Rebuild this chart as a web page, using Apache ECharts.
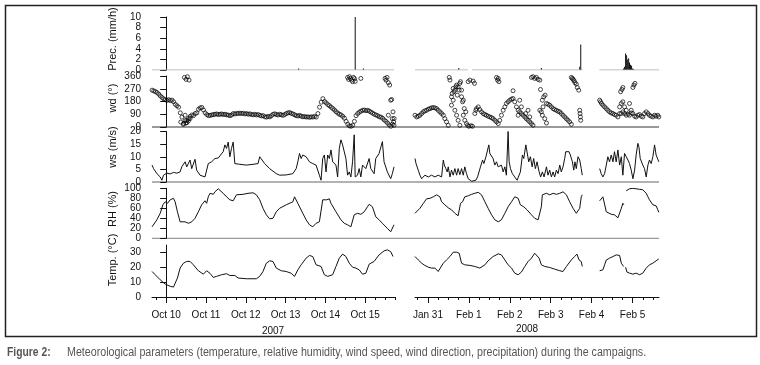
<!DOCTYPE html>
<html>
<head>
<meta charset="utf-8">
<script src="https://cdn.jsdelivr.net/npm/echarts@6/dist/echarts.min.js"></script>
<style>
  html, body { margin: 0; padding: 0; background: #fff; }
  #chart { width: 760px; height: 365px; }
</style>
</head>
<body>
<div id="chart"></div>
<script>
// time is in hours after 00:00 of the first labelled day (Oct 10 2007 / Jan 31 2008)
const dayLabels2007 = ['Oct 10', 'Oct 11', 'Oct 12', 'Oct 13', 'Oct 14', 'Oct 15'];
const dayLabels2008 = ['Jan 31', 'Feb 1', 'Feb 2', 'Feb 3', 'Feb 4', 'Feb 5'];
const yearLabels = ['2007', '2008'];

// precipitation (mm/h): measured spans (value 0) and non-zero readings
const precSpans2007 = [[-8.5, 137.5]];
const prec2007 = [[79.9, 0.3], [114, 10], [119, 0.3]];
const precSpans2008 = [[-7.6, 23.4], [25.8, 90.6], [100.6, 135.6]];
const prec2008 = [[18.1, 0.4], [66.5, 0.4], [89.0, 0.6], [89.6, 4.8],
  [114.7, 0.3], [115.3, 0.6], [115.9, 3.1], [116.5, 2.8], [117.1, 2.0], [117.7, 2.2],
  [118.2, 1.4], [118.8, 1.0], [119.4, 0.8], [120.0, 0.3], [120.6, 0.2]];

// wind direction (deg), 2007 hourly from -8.5 h
const wd2007Start = -8.5;
const wd2007 = [260,255,250,243,232,220,208,198,192,188,
  193,186,190,178,160,150,140,100,70,25,
  45,30,60,75,85,80,95,100,125,135,
  138,120,100,88,80,82,85,88,90,92,
  88,90,92,88,90,86,84,80,85,95,
  92,96,95,98,95,97,92,95,90,93,
  88,86,90,85,88,82,78,80,72,70,
  75,72,80,90,93,88,85,90,86,82,
  88,95,100,102,96,92,86,80,78,82,
  76,72,74,70,72,68,72,70,75,70,
  95,140,175,200,180,170,158,150,140,130,
  120,108,98,90,85,75,62,40,20,8,
  5,12,40,80,95,105,112,118,120,115,
  118,112,105,98,90,85,80,72,70,62,
  50,40,28,15,5,20,60];
const wd2007Extra = [[11.0,350],[12.0,336],[12.8,355],[13.8,331],[8.8,35],[10.4,19],[11.8,28],
  [12.4,47],[13.4,43],[14.4,59],[11.4,83],
  [109.4,350],[110.0,336],[110.6,355],[111.2,343],[111.8,331],[112.4,320],[113.0,350],[113.6,341],[114.0,322],
  [117.4,343],[132.0,343],[132.6,331],[133.2,350],[134.0,313],[134.8,296],[135.4,189],[136.0,194],
  [136.8,107],[134.0,83],[136.4,59],[137.2,36],[137.4,12]];
const wd2008 = [
  [-7.6,83],[-6.6,71],[-5.7,76],[-4.7,83],[-3.7,95],[-2.7,107],[-1.8,114],[-0.8,118],[0.2,126],[1.2,130],
  [2.1,135],[3.1,137],[4.1,135],[5.1,130],[6.0,118],[7.0,107],[8.0,95],[9.0,83],[9.9,59],[10.9,36],[11.9,12],
  [12.5,350],[12.9,331],[13.8,213],[13.8,154],[14.2,237],[14.8,272],[14.8,189],[15.2,249],[15.8,260],[15.8,118],
  [16.4,284],[16.8,296],[16.8,83],[17.2,225],[17.7,284],[17.7,47],[18.3,260],[18.7,308],[18.7,12],[19.1,320],
  [19.7,260],[19.7,213],[20.3,178],[20.7,189],[20.7,83],[21.3,130],[21.6,47],[22.2,107],[22.6,24],[23.2,12],
  [23.6,320],[24.0,5],[24.6,331],[25.2,9],[26.1,5],[26.5,324],[27.3,308],
  [27.5,95],[28.1,118],[28.5,130],[29.5,142],[30.4,123],[31.4,107],[32.4,95],[33.4,88],[34.3,83],[35.3,76],
  [36.3,71],[37.3,66],[38.2,59],[39.2,47],[40.2,36],[41.2,24],[42.1,47],[43.1,83],[44.1,118],[45.1,142],
  [46.0,166],[47.0,178],[48.0,189],[49.0,197],[49.9,201],[50.9,178],[51.9,142],[52.9,118],[53.8,107],[54.8,95],
  [55.8,83],[56.8,71],[57.7,59],[58.7,47],[59.7,36],[60.7,24],[61.6,12],
  [40.2,350],[40.8,331],[41.6,320],[41.2,343],[49.9,256],[52.9,83],[53.8,189],[54.8,142],[57.3,95],[58.7,118],[59.7,71],
  [60.7,350],[61.6,355],[62.6,343],[63.6,350],[64.6,336],[65.6,331],[66.0,265],[67.1,189],[67.9,213],[68.7,225],
  [65.6,118],[66.5,107],[67.5,142],[67.1,83],[68.5,59],[69.5,28],
  [69.5,166],[70.4,161],[71.4,154],[72.4,142],[73.4,130],[74.3,123],[75.3,118],[76.3,111],[77.3,107],[78.2,95],
  [79.2,83],[80.2,71],[81.2,59],[82.1,47],[83.1,36],[84.1,19],
  [84.1,350],[84.7,343],[85.1,336],[85.7,327],[86.2,313],[87.0,303],[87.6,279],[88.4,260],
  [89.0,118],[89.2,95],[89.4,71],[89.6,47],
  [100.7,189],[101.2,178],[101.8,166],[102.6,154],[103.6,142],[104.6,130],[105.5,118],[106.5,107],[107.5,99],
  [108.5,95],[109.4,88],[110.4,83],[111.4,71],[112.4,95],
  [113.0,249],[113.8,265],[114.3,279],[112.4,142],[113.4,166],[114.3,178],[115.3,142],[116.3,118],[118.2,166],
  [119.2,118],[120.2,279],[120.8,296],[121.4,308],
  [113.4,95],[114.3,107],[115.3,95],[116.3,83],[117.3,90],[118.2,83],[119.2,99],[120.2,95],[121.2,76],[122.1,71],
  [123.1,83],[124.1,88],[125.1,76],[126.0,71],[127.0,95],[128.0,107],[129.0,95],[129.9,83],[130.9,76],[131.9,71],
  [132.9,83],[133.8,76],[134.8,83],[135.4,71]];

// wind speed (m/s)
const ws2007 = [[-8.5,6.7],[-7.6,5.3],[-5.6,3.3],[-3.6,2],[-2.6,0.7],[-1.6,2.7],[0.4,3.5],[2.4,3.2],[4.4,3.8],
  [6.4,3.5],[8.4,4],[9.4,6],[11.4,8],[12.4,6],[14.4,8.7],[15.4,5.3],[17.4,9],[18.4,4.7],[20.4,2.7],[23.4,2],
  [24.4,1.3],[25.4,7.3],[27.4,8],[29.4,9.3],[31.4,9.5],[34.4,12],[35.4,14.7],[36.4,13.3],[37.4,15.8],[38.4,10],
  [39.4,13.3],[40.4,15.8],[41.4,7.3],[44.4,7],[48.4,6.7],[52.4,7],[55.4,7.3],[56.4,10],[57.4,9.3],[59.4,7.3],
  [62.4,5.3],[66.4,3.3],[68.4,2.7],[72.4,2.8],[76.4,3.3],[78.4,5.3],[79.4,8],[80.4,11.3],[81.4,9.3],[82.4,10.7],
  [84.4,10],[86.4,8],[88.4,7.3],[90.4,6.7],[92.4,2.7],[93.4,0.7],[94.4,9.3],[95.4,10.7],[96.4,4],[97.4,10.7],
  [98.4,9.3],[99.4,12.7],[100.4,8],[102.4,6.7],[103.4,2],[104.4,13.3],[105.4,16.7],[106.4,14.7],[107.4,14.7],
  [108.4,9.3],[109.4,2.7],[110.4,4],[111.4,2],[112.4,8],[113.4,18.7],[114,2],[115.4,2.7],[116.4,5.3],[117.4,2],
  [118.4,6.7],[120.4,5.3],[122.4,9.3],[123.4,5.3],[125.4,3.3],[126.4,9.3],[128.4,11.3],[130.4,16],[131.4,8],
  [132.4,8],[133.4,4],[135.4,1.3],[136.4,3.3],[137.4,6]];
const ws2008 = [[-7.6,9.3],[-7.0,7.3],[-6.2,6.7],[-5.7,4.7],[-4.7,2.7],[-3.7,1.3],[-2.7,2],[-1.8,2.7],[-0.8,2.2],
  [0.2,2],[1.2,2.6],[2.1,2.7],[3.1,2.2],[4.1,2],[5.1,2.5],[6.0,2.7],[7.0,3.3],[8.0,2],[9.0,8.7],[9.6,6.7],
  [10.5,5.3],[11.3,4],[11.9,6],[12.9,2],[13.8,4.7],[14.8,2.7],[15.8,5.3],[16.8,2.7],[17.7,5.3],[18.7,2.9],
  [19.7,5.3],[20.7,2.7],[21.6,6],[22.6,3.3],[23.6,1.3],[24.6,0.7],[25.6,0.3],[26.5,0],[28.1,0.7],[29.1,2],
  [30.0,1.3],[30.8,6],[32.0,8.7],[32.8,7.3],[34.0,10],[34.7,9.3],[35.7,14.7],[36.3,11.3],[37.3,12],[38.2,9.3],
  [39.2,6.7],[40.2,8],[41.2,6],[42.1,5.3],[43.1,6.7],[44.1,4],[45.1,6],[46.0,2.7],[47.0,20],[47.6,8],
  [48.4,5.3],[49.5,3.3],[50.9,2],[52.3,0.7],[53.3,1.3],[54.2,4],[55.4,10.7],[56.2,9.3],[57.4,14.7],[58.3,14],
  [59.1,8],[60.1,10],[61.1,6],[62.0,9.3],[63.0,5.3],[64.0,8],[65.2,4],[66.1,2],[67.1,4],[68.1,2],
  [69.5,6],[70.4,2.7],[71.4,4.7],[72.4,2],[73.4,4],[74.3,2],[75.3,4.7],[76.3,3.3],[77.3,6.7],[78.2,4],
  [79.2,6],[80.2,9.3],[80.8,12],[81.8,12.7],[82.7,12],[83.5,10.7],[84.7,8],[85.5,4.7],[86.2,8],[87.0,5.3],
  [88.0,10],[89.0,8.7],[89.9,5.3],[90.5,2.7],[95,null],
  [100.7,5.3],[101.6,3.3],[102.6,2],[103.6,3.3],[104.6,6.7],[105.5,10],[106.5,8],[107.5,10.7],[108.5,8],
  [109.4,12],[110.4,8],[111.4,12.7],[112.4,6.7],[113.4,10],[114.3,2.7],[115.3,11.3],[116.3,10],[117.3,8.7],
  [118.2,7.3],[119.2,4.7],[120.2,1.3],[121.2,4.7],[122.1,10.7],[123.1,15.3],[123.7,14],[124.5,9.3],[125.3,10],
  [126.0,6.7],[127.0,5.3],[128.0,2],[129.0,6.7],[129.9,8.7],[130.9,7.3],[131.9,10],[132.9,14.7],[133.8,10.7],
  [134.8,10],[135.4,8]];

// relative humidity (%)
const rh2007 = [[-8.5,23],[-7.6,27],[-5.6,37],[-3.6,50],[-2.0,67],[-0.6,73],[0.8,70],[2.4,77],[4.4,80],[5.4,73],
  [6.8,53],[8.4,33],[9.4,30],[11.4,33],[13.4,30],[15.4,33],[17.4,40],[19.4,53],[21.4,67],[23.4,75],[24.4,70],
  [25.4,83],[26.4,90],[28.4,88],[29.4,93],[31.4,99],[32.4,95],[34.4,90],[36.4,83],[38.4,77],[40.4,75],[42.4,87],
  [46.4,88],[49.4,90],[52.4,91],[54.4,87],[56.4,77],[58.4,60],[60.4,47],[62.4,39],[64.4,40],[66.4,53],[68.4,60],
  [72.4,67],[76.4,73],[77.4,83],[79.4,70],[82.4,50],[84.4,37],[86.4,27],[88.4,23],[90.4,30],[92.4,33],[94.4,77],
  [95.4,80],[96.8,77],[98.4,79],[99.4,70],[102.4,53],[105.4,37],[107.4,30],[109.4,27],[111.4,23],[113.4,47],
  [115.4,50],[117.4,48],[119.4,53],[121.4,63],[122.4,68],[124.4,63],[126.4,43],[128.4,37],[130.4,30],[133.4,20],
  [135.4,13],[137.4,27]];
const rh2008 = [[-7.6,50],[-6.6,52],[-4.7,60],[-2.7,70],[-0.8,79],[1.2,80],[3.1,83],[5.1,87],[6.0,88],[7.0,83],
  [8.0,73],[9.9,67],[11.9,61],[13.8,57],[15.8,50],[17.7,45],[18.7,47],[19.1,70],[20.3,73],[21.6,83],[23.6,85],
  [25.6,88],[27.5,90],[29.5,92],[30.4,95],[31.4,87],[33.4,73],[35.3,60],[37.3,47],[39.2,37],[41.2,33],[43.1,37],
  [45.1,50],[47.0,63],[49.0,73],[50.9,83],[51.9,87],[52.9,80],[54.2,67],[56.2,63],[58.1,57],[60.7,47],[62.6,40],
  [64.6,37],[65.6,40],[66.5,63],[67.1,87],[67.9,83],[69.5,90],[71.4,87],[73.4,90],[75.3,88],[77.3,90],[79.2,93],
  [81.2,87],[83.1,73],[85.1,60],[87.0,50],[88.0,47],[89.0,60],[89.9,83],[90.5,87],[95,null],
  [100.7,75],[101.6,79],[102.6,83],[103.6,80],[104.6,53],[105.5,50],[107.5,48],[109.4,47],[111.4,41],[112.4,40],
  [113.4,60],[114.3,70],[114.9,67],[115.5,null],
  [116.3,95],[118.2,99],[120.2,100],[122.1,99],[124.1,98],[126.0,97],[128.0,90],[129.0,83],[129.9,77],[131.9,67],
  [133.8,65],[134.8,57],[135.4,52]];

// temperature (deg C)
const temp2007 = [[-8.5,17.2],[-6.6,15],[-3.6,11.6],[-0.6,8.7],[2.4,7.2],[4.4,6.7],[5.4,7.2],[6.8,12.8],[8.4,19.5],
  [10.4,22.8],[12.4,24],[14.4,24],[16.4,21.7],[19.4,17.7],[22.4,15.4],[24.4,17.7],[26.4,16],[28.4,13.2],[30.4,13.9],
  [33.4,15],[36.4,15.7],[38.4,14.5],[41.4,14.5],[43.4,12.8],[48.4,12.3],[54.4,12.3],[56.4,13.9],[58.4,17.2],
  [60.4,22.8],[62.4,24.4],[64.4,24],[66.4,19.5],[69.4,17.7],[72.4,17.2],[75.4,16],[77.4,13.9],[79.4,18.3],
  [81.4,21.7],[84.4,26.2],[86.4,28],[88.4,27.3],[90.4,21.7],[93.4,20.6],[95.4,15],[97.4,13.9],[100.4,15],
  [102.4,20.6],[104.4,26.2],[106.4,28.9],[108.4,27.3],[110.4,22.8],[112.4,20.1],[114.4,19.5],[116.4,18.3],
  [118.4,15.4],[120.4,16],[122.4,22.1],[125.4,24],[128.4,28.4],[131.4,31.1],[133.4,31.8],[135.4,30.6],[136.8,27.3]];
const temp2008 = [[-7.6,27.3],[-5.7,25],[-3.7,22.8],[-1.8,21.3],[0.2,20.1],[2.1,19.5],[4.1,19.5],[6.0,17.2],[7.0,18.3],
  [9.0,22.8],[10.9,25],[12.9,27.3],[14.8,30.2],[16.8,30.2],[18.3,29.5],[19.7,22.8],[21.6,21.7],[24.6,21.3],[27.5,20.6],
  [30.4,19.5],[31.4,18.3],[33.4,21.7],[35.3,24.4],[38.2,27.3],[41.2,29.1],[43.1,28.4],[45.1,25],[47.0,21.7],
  [49.0,19.5],[50.9,16.1],[52.9,15],[54.8,16.8],[56.8,20.6],[58.7,23.9],[60.7,26.2],[62.6,29.5],[63.6,30],
  [65.2,26.2],[66.5,21.7],[68.5,20.6],[71.4,19.9],[74.3,18.8],[77.3,17.7],[79.2,17.2],[81.2,20.6],[84.1,25],
  [86.0,27.3],[87.4,28.9],[88.6,25],[89.9,23.9],[90.5,20.6],[95,null],
  [100.7,17.7],[102.6,18.3],[103.6,21.7],[104.6,25],[106.5,26.2],[108.5,27.3],[110.4,28.4],[111.4,29.5],
  [112.4,28],[113.4,22.8],[114.7,20.6],[115.3,null],
  [115.9,20.1],[116.7,16.8],[118.2,16.1],[120.2,15.4],[122.1,16.1],[124.1,15],[126.0,16.1],[128.0,19.5],
  [129.9,21.7],[131.9,22.8],[133.8,24.4],[135.4,25.7]];

const FONT = 'Liberation Sans, Arial, sans-serif';
const INK = '#111';

// layout: two columns (2007, 2008) x five stacked panels
const cols = [
  { left: 152, width: 243, min: -8.55, max: 138, days: dayLabels2007 },
  { left: 415, width: 244, min: -7.6, max: 135.5, days: dayLabels2008 }
];
const rows = [
  { top: 17, height: 53, min: 0, max: 10, interval: 2, name: 'Prec. (mm/h)', nameY: 39 },
  { top: 76, height: 51, min: 0, max: 360, interval: 90, name: 'wd (°)', nameY: 98 },
  { top: 131.5, height: 50.5, min: 0, max: 20, interval: 5, name: 'ws (m/s)', nameY: 147 },
  { top: 188.3, height: 50, min: 0, max: 100, interval: 20, name: 'RH (%)', nameY: 209 },
  { top: 245.1, height: 51.9, min: 0, max: 35, interval: 10, name: 'Temp. (°C)', nameY: 260 }
];

const grids = [], xAxes = [], yAxes = [];
rows.forEach((r, ri) => {
  cols.forEach((c, ci) => {
    const idx = ri * 2 + ci;
    grids.push({ left: c.left, width: c.width, top: r.top, height: r.height, outerBoundsMode: 'none' });
    const minorTicks = [];
    for (let t = -6; t <= c.max; t += 6) minorTicks.push(t);
    const isBottom = ri === 4;
    xAxes.push({
      type: 'value', gridIndex: idx, min: c.min, max: c.max,
      axisLine: { show: isBottom, lineStyle: { color: INK, width: 1 } },
      axisTick: { show: isBottom, customValues: minorTicks, length: 3, lineStyle: { color: INK } },
      axisLabel: { show: false },
      splitLine: { show: false }
    });
    const labelVals = [];
    for (let v = r.min; v <= r.max; v += r.interval) labelVals.push(v);
    yAxes.push({
      type: 'value', gridIndex: idx, min: r.min, max: r.max, interval: r.interval,
      show: ci === 0,
      axisLine: { show: true, lineStyle: { color: INK, width: 1 } },
      axisTick: { show: true, length: 6, customValues: labelVals, lineStyle: { color: INK } },
      axisLabel: { show: true, customValues: labelVals, fontSize: 10, color: INK, margin: 11, fontFamily: FONT },
      splitLine: { show: false }
    });
  });
});
// major day ticks + labels on the bottom panels
cols.forEach((c, ci) => {
  const majors = c.days.map((d, i) => i * 24);
  xAxes.push({
    type: 'value', gridIndex: 8 + ci, min: c.min, max: c.max, position: 'bottom',
    axisLine: { show: false },
    axisTick: { show: true, customValues: majors, length: 6, lineStyle: { color: INK } },
    axisLabel: { show: true, customValues: majors, margin: 13, fontSize: 10, color: INK, fontFamily: FONT,
      formatter: v => c.days[Math.round(v / 24)] },
    splitLine: { show: false }
  });
});

const spanLine = spans => spans.flatMap(([a, b]) => [[a, 0], [b, 0], [b + 0.1, null]]);

const lineSeries = (axis, data) => ({
  type: 'line', xAxisIndex: axis, yAxisIndex: axis, data, showSymbol: false, symbol: 'none',
  connectNulls: false, lineStyle: { color: INK, width: 1 }, silent: true
});
const scatterSeries = (axis, data) => ({
  type: 'scatter', xAxisIndex: axis, yAxisIndex: axis, data, symbol: 'circle', symbolSize: 4,
  itemStyle: { color: 'rgba(0,0,0,0)', borderColor: '#000', borderWidth: 0.9 }, silent: true
});
const baseSeries = (axis, spans) => ({
  type: 'line', xAxisIndex: axis, yAxisIndex: axis, data: spanLine(spans), symbol: 'none',
  connectNulls: false, lineStyle: { color: '#aaa', width: 1 }, silent: true
});
const barSeries = (axis, data) => ({
  type: 'bar', xAxisIndex: axis, yAxisIndex: axis, data, barWidth: 1,
  itemStyle: { color: INK }, silent: true
});

const series = [
  baseSeries(0, precSpans2007), barSeries(0, prec2007),
  baseSeries(1, precSpans2008), barSeries(1, prec2008),
  scatterSeries(2, wd2007.map((v, i) => [wd2007Start + i, v]).concat(wd2007Extra)),
  scatterSeries(3, wd2008),
  lineSeries(4, ws2007), lineSeries(5, ws2008),
  lineSeries(6, rh2007), lineSeries(7, rh2008),
  lineSeries(8, temp2007), lineSeries(9, temp2008)
];

const graphic = [
  { type: 'rect', shape: { x: 5.5, y: 5.5, width: 751, height: 331 }, style: { fill: 'none', stroke: '#222', lineWidth: 1.5 }, silent: true }
];
// grey zero lines under wd, ws and RH, running across both campaigns
[[1, 2, '#999'], [2, 1.6, '#999'], [3, 1.3, '#999']].forEach(([ri, w, col]) => {
  const y = rows[ri].top + rows[ri].height;
  graphic.push({ type: 'line', shape: { x1: cols[0].left, y1: y, x2: cols[1].left + cols[1].width, y2: y },
    style: { stroke: col, lineWidth: w }, silent: true, z: -1 });
});
rows.forEach(r => {
  graphic.push({ type: 'text', x: 113, y: r.nameY, rotation: Math.PI / 2,
    style: { text: r.name, font: '11px ' + FONT, fill: INK, align: 'center', verticalAlign: 'middle' }, silent: true });
});
graphic.push({ type: 'text', x: 273, y: 331, style: { text: yearLabels[0], font: '10px ' + FONT, fill: INK, align: 'center', verticalAlign: 'middle' } });
graphic.push({ type: 'text', x: 527, y: 329, style: { text: yearLabels[1], font: '10px ' + FONT, fill: INK, align: 'center', verticalAlign: 'middle' } });
// caption: the printed face is a narrow sans, so squeeze regular Liberation Sans horizontally
graphic.push({ type: 'text', x: 7, y: 353, scaleX: 0.86, style: { text: 'Figure 2:', font: 'bold 12px ' + FONT, fill: '#555', verticalAlign: 'middle' } });
graphic.push({ type: 'text', x: 67, y: 353, scaleX: 0.89, style: { text: 'Meteorological parameters (temperature, relative humidity, wind speed, wind direction, precipitation) during the campaigns.', font: '12px ' + FONT, fill: '#555', verticalAlign: 'middle' } });

const chart = echarts.init(document.getElementById('chart'), null, { renderer: 'canvas' });
chart.setOption({
  animation: false,
  textStyle: { fontFamily: FONT },
  grid: grids,
  xAxis: xAxes,
  yAxis: yAxes,
  series,
  graphic
});
</script>
</body>
</html>
